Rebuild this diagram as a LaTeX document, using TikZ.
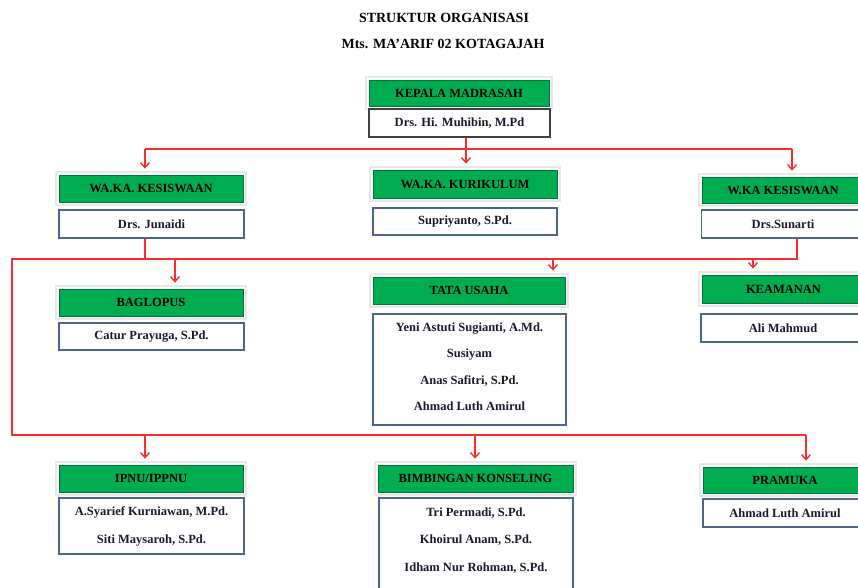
\documentclass[tikz,border=0pt]{standalone}
\usepackage{fontspec}
\setmainfont{Liberation Serif}
\usetikzlibrary{arrows.meta}
\definecolor{hdrgreen}{RGB}{0,172,80}
\definecolor{hdredge}{RGB}{0,120,55}
\definecolor{boxblue}{RGB}{75,100,145}
\definecolor{linered}{RGB}{250,45,45}
\definecolor{nametxt}{RGB}{25,25,45}
\begin{document}
\begin{tikzpicture}[x=1pt,y=-1pt,
  titletext/.style={font=\fontsize{14}{16}\selectfont\bfseries, text=black},
  hdr/.style={rectangle, fill=hdrgreen, draw=hdredge, line width=0.8pt,
    minimum height=27pt, inner sep=0pt, text=black,
    font=\fontsize{12.5}{14}\selectfont\bfseries,
    preaction={draw=black!9, line width=8pt, rounded corners=3pt},
    preaction={draw=white, line width=4.5pt}},
  namebox/.style={rectangle, fill=white, draw=boxblue, line width=1.3pt,
    inner sep=0pt, align=center, text=nametxt,
    font=\fontsize{12.5}{28}\selectfont\bfseries},
  plaintext/.style={inner sep=0pt, align=center, text=nametxt},
  link/.style={draw=linered, line width=1.4pt},
  arr/.style={link, -{Straight Barb[length=5pt,width=9pt]}, shorten >=6pt},
]
\fill[white] (0,0) rectangle (858,587);
\useasboundingbox (0,0) rectangle (858,587);

% titles
\node[titletext] (title1) at (444,18) {STRUKTUR ORGANISASI};
\node[titletext] (title2) at (443,44) {Mts. MA’ARIF 02 KOTAGAJAH};

% level 0
\node[hdr, minimum width=180pt, minimum height=26pt] (kep) at (459,93) {KEPALA MADRASAH};
\node[namebox, draw=black!75, minimum width=181pt, minimum height=28pt] (kepn) at (459.5,123) {Drs. Hi. Muhibin, M.Pd};

% level 1
\node[hdr, minimum width=184pt, minimum height=27pt] (wk1) at (151,188.5) {WA.KA. KESISWAAN};
\node[namebox, minimum width=185pt, minimum height=28pt] (wk1n) at (151.5,224) {Drs. Junaidi};
\node[hdr, minimum width=184pt, minimum height=28pt] (wk2) at (465,184) {WA.KA. KURIKULUM};
\node[namebox, minimum width=184pt, minimum height=27pt] (wk2n) at (465,221.5) {Supriyanto, S.Pd.};
\node[hdr, minimum width=162pt, minimum height=26pt] (wk3) at (783,190) {W.KA KESISWAAN};
\node[namebox, minimum width=163pt, minimum height=28pt] (wk3n) at (783,224) {Drs.Sunarti};

% level 2
\node[hdr, minimum width=184pt, minimum height=27pt] (bag) at (151,302.5) {BAGLOPUS};
\node[namebox, minimum width=185pt, minimum height=27pt] (bagn) at (151.5,336.5) {Catur Prayuga, S.Pd.};
\node[hdr, minimum width=192pt, minimum height=27pt] (tu) at (469,290.5) {TATA USAHA};
\node[namebox, minimum width=193pt, minimum height=111pt] (tun) at (469.5,369.5) {};
\node[plaintext, font=\fontsize{12.5}{26.5}\selectfont\bfseries] (tut) at (469.5,366.5)
  {Yeni Astuti Sugianti, A.Md.\\Susiyam\\Anas Safitri, S.Pd.\\Ahmad Luth Amirul};
\node[hdr, minimum width=163pt, minimum height=28pt] (kea) at (783.5,289) {KEAMANAN};
\node[namebox, minimum width=164pt, minimum height=28pt] (kean) at (783,328) {Ali Mahmud};

% level 3
\node[hdr, minimum width=184pt, minimum height=27pt] (ipnu) at (151,478.5) {IPNU/IPPNU};
\node[namebox, minimum width=185pt, minimum height=56pt] (ipnun) at (151.5,526)
  {A.Syarief Kurniawan, M.Pd.\\Siti Maysaroh, S.Pd.};
\node[hdr, minimum width=195pt, minimum height=27pt] (bk) at (475.5,478.5) {BIMBINGAN KONSELING};
\node[namebox, minimum width=194pt, minimum height=102pt] (bkn) at (476,549) {};
\node[plaintext, font=\fontsize{12.5}{27.5}\selectfont\bfseries] (bkt) at (476,540.5)
  {Tri Permadi, S.Pd.\\Khoirul Anam, S.Pd.\\Idham Nur Rohman, S.Pd.};
\node[hdr, minimum width=164pt, minimum height=26pt] (pra) at (785,480) {PRAMUKA};
\node[namebox, minimum width=164pt, minimum height=28pt] (pran) at (785,513) {Ahmad Luth Amirul};

% connectors level 1
\coordinate (j0) at (466,149);
\coordinate (h1l) at (145,149);
\coordinate (h1r) at (792,149);
\draw[link] (kepn.south -| j0) -- (j0);
\draw[link] (h1l) -- (h1r);
\draw[arr] (h1l) -- (wk1.north -| h1l);
\draw[arr] (j0) -- (wk2.north -| j0);
\draw[arr] (h1r) -- (wk3.north -| h1r);

% connectors level 2
\coordinate (d1) at (145,259);
\coordinate (h2r) at (797,259);
\coordinate (h2l) at (12,259);
\coordinate (h3l) at (12,435);
\coordinate (h3r) at (806,435);
\draw[link] (wk1n.south -| d1) -- (d1);
\draw[link] (wk3n.south -| h2r) -- (h2r) -- (h2l) -- (h3l) -- (h3r);
\coordinate (a1) at (175,259);
\coordinate (a2) at (553,259);
\coordinate (a3) at (753,259);
\draw[arr] (a1) -- (bag.north -| a1);
\draw[arr] (a2) -- (tu.north -| a2);
\draw[arr] (a3) -- (kea.north -| a3);

% connectors level 3
\coordinate (b1) at (145,435);
\coordinate (b2) at (475,435);
\draw[arr] (b1) -- (ipnu.north -| b1);
\draw[arr] (b2) -- (bk.north -| b2);
\draw[arr] (h3r) -- (pra.north -| h3r);
\end{tikzpicture}
\end{document}
